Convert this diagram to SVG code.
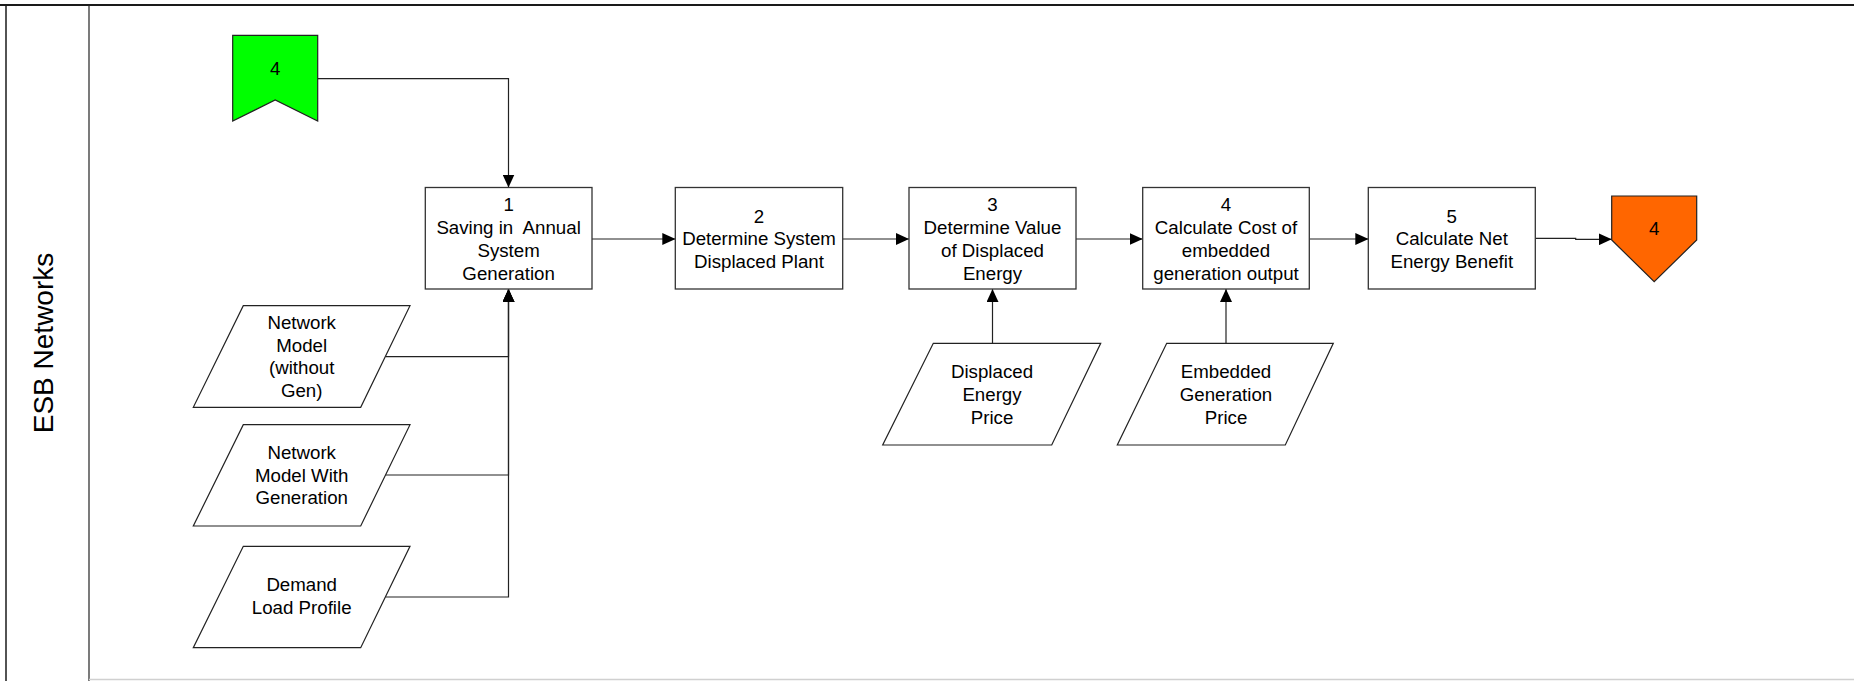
<svg xmlns="http://www.w3.org/2000/svg" width="1854" height="681" viewBox="0 0 1854 681">
  <style>
    .lbl { font-family: "Liberation Sans", Arial, sans-serif; font-size: 18.7px; fill: #000; text-anchor: middle; }
    .lane { font-family: "Liberation Sans", Arial, sans-serif; font-size: 28px; fill: #000; text-anchor: middle; }
    .proc { fill: #fff; stroke: #333; stroke-width: 1.3; }
    .data { fill: #fff; stroke: #222; stroke-width: 1.2; }
    .conn { fill: none; stroke: #222; stroke-width: 1.2; marker-end: url(#arrow); }
  </style>
  <defs>
    <marker id="arrow" markerUnits="userSpaceOnUse" markerWidth="13" markerHeight="12" refX="13" refY="6" orient="auto">
      <path d="M0,0 L13,6 L0,12 z" fill="#000"/>
    </marker>
  </defs>

  <rect x="0" y="0" width="1854" height="681" fill="#fff"/>

  <!-- pool and lane frame -->
  <g id="lane">
    <line x1="0" y1="5" x2="1854" y2="5" stroke="#1a1a1a" stroke-width="2"/>
    <line x1="6" y1="5" x2="6" y2="681" stroke="#1a1a1a" stroke-width="1.5"/>
    <line x1="89" y1="5" x2="89" y2="681" stroke="#222" stroke-width="1.2"/>
    <line x1="89" y1="679.5" x2="1854" y2="679.5" stroke="#d0d0d0" stroke-width="1.5"/>
    <text class="lane" transform="translate(53,343) rotate(-90)">ESB Networks</text>
  </g>

  <!-- connectors -->
  <g id="connectors">
    <path class="conn" d="M317.7,78.7 H508.5 V187.5"/>
    <path class="conn" d="M385.7,356.7 H508.5 V289"/>
    <path class="conn" d="M385.5,475 H508.5 V289"/>
    <path class="conn" d="M385.5,597 H508.5 V289"/>
    <path class="conn" d="M592,239 H675.3"/>
    <path class="conn" d="M842.7,239 H909"/>
    <path class="conn" d="M1076,239 H1142.7"/>
    <path class="conn" d="M1309.3,239 H1368.3"/>
    <path class="conn" d="M1535.3,238.3 H1575.7 V239.3 H1611.7"/>
    <path class="conn" d="M992.5,343.3 V289"/>
    <path class="conn" d="M1226,343.3 V289"/>
  </g>

  <!-- off-page reference in -->
  <g id="ref-in">
    <polygon points="232.7,35.3 317.7,35.3 317.7,121 275.2,100 232.7,121" fill="#00ff00" stroke="#222" stroke-width="1.2"/>
    <text class="lbl" x="275.2" y="75">4</text>
  </g>

  <!-- processes -->
  <g id="p1">
    <rect class="proc" x="425.3" y="187.5" width="166.7" height="101.5"/>
    <text class="lbl" x="508.6" y="211">1</text>
    <text class="lbl" x="508.6" y="234" xml:space="preserve">Saving in  Annual</text>
    <text class="lbl" x="508.6" y="257">System</text>
    <text class="lbl" x="508.6" y="279.5">Generation</text>
  </g>
  <g id="p2">
    <rect class="proc" x="675.3" y="187.5" width="167.4" height="101.5"/>
    <text class="lbl" x="759" y="222.5">2</text>
    <text class="lbl" x="759" y="245">Determine System</text>
    <text class="lbl" x="759" y="267.5">Displaced Plant</text>
  </g>
  <g id="p3">
    <rect class="proc" x="909" y="187.5" width="167" height="101.5"/>
    <text class="lbl" x="992.5" y="211">3</text>
    <text class="lbl" x="992.5" y="234">Determine Value</text>
    <text class="lbl" x="992.5" y="257">of Displaced</text>
    <text class="lbl" x="992.5" y="279.5">Energy</text>
  </g>
  <g id="p4">
    <rect class="proc" x="1142.7" y="187.5" width="166.6" height="101.5"/>
    <text class="lbl" x="1226" y="211">4</text>
    <text class="lbl" x="1226" y="234">Calculate Cost of</text>
    <text class="lbl" x="1226" y="257">embedded</text>
    <text class="lbl" x="1226" y="279.5">generation output</text>
  </g>
  <g id="p5">
    <rect class="proc" x="1368.3" y="187.5" width="167" height="101.5"/>
    <text class="lbl" x="1451.8" y="222.5">5</text>
    <text class="lbl" x="1451.8" y="245">Calculate Net</text>
    <text class="lbl" x="1451.8" y="267.5">Energy Benefit</text>
  </g>

  <!-- off-page reference out -->
  <g id="ref-out">
    <polygon points="1611.7,196 1696.7,196 1696.7,240 1654.2,281.7 1611.7,240" fill="#ff6600" stroke="#222" stroke-width="1.2"/>
    <text class="lbl" x="1654.2" y="235">4</text>
  </g>

  <!-- data inputs -->
  <g id="d1">
    <polygon class="data" points="243.3,305.7 410,305.7 360.7,407.3 193.3,407.3"/>
    <text class="lbl" x="301.7" y="328.5">Network</text>
    <text class="lbl" x="301.7" y="351.5">Model</text>
    <text class="lbl" x="301.7" y="374">(without</text>
    <text class="lbl" x="301.7" y="396.7">Gen)</text>
  </g>
  <g id="d2">
    <polygon class="data" points="243.3,424.7 410,424.7 360.7,526 193.3,526"/>
    <text class="lbl" x="301.7" y="458.5">Network</text>
    <text class="lbl" x="301.7" y="481.5">Model With</text>
    <text class="lbl" x="301.7" y="504">Generation</text>
  </g>
  <g id="d3">
    <polygon class="data" points="243.3,546.3 410,546.3 360.7,647.7 193.3,647.7"/>
    <text class="lbl" x="301.7" y="591">Demand</text>
    <text class="lbl" x="301.7" y="614">Load Profile</text>
  </g>
  <g id="d4">
    <polygon class="data" points="933.3,343.3 1100.7,343.3 1051.7,445 882.7,445"/>
    <text class="lbl" x="992" y="378">Displaced</text>
    <text class="lbl" x="992" y="401">Energy</text>
    <text class="lbl" x="992" y="424">Price</text>
  </g>
  <g id="d5">
    <polygon class="data" points="1166.7,343.3 1333.3,343.3 1285.3,445 1117.3,445"/>
    <text class="lbl" x="1226" y="378">Embedded</text>
    <text class="lbl" x="1226" y="401">Generation</text>
    <text class="lbl" x="1226" y="424">Price</text>
  </g>
</svg>
